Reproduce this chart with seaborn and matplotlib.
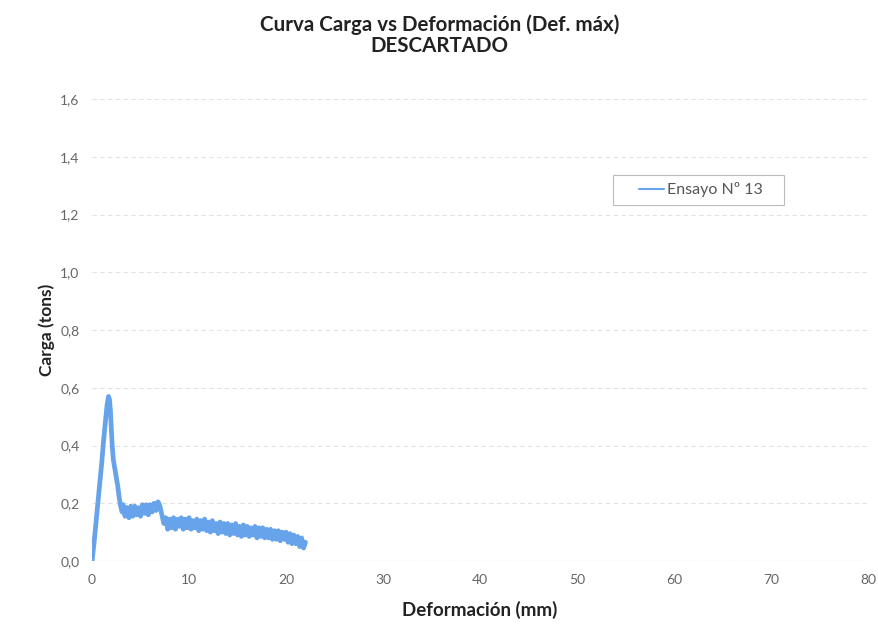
import matplotlib
matplotlib.use("Agg")
import matplotlib.pyplot as plt
import seaborn as sns
import pandas as pd
from matplotlib.ticker import FuncFormatter
from matplotlib.lines import Line2D
from matplotlib.legend_handler import HandlerLine2D

title = "Curva Carga vs Deformación (Def. máx)\nDESCARTADO"
x_label = "Deformación (mm)"
y_label = "Carga (tons)"
series_name = "Ensayo Nº 13"

deformacion = [0.0, 0.2, 0.4, 0.6, 0.8, 1.0, 1.2, 1.4, 1.55, 1.7, 1.8, 1.9, 2.0, 2.1, 2.2, 2.35, 2.5, 2.65, 2.8, 2.95, 3.1,
               3.2, 3.4, 3.6, 3.8, 4.0, 4.2, 4.4, 4.6, 4.8, 5.0, 5.2, 5.4, 5.6, 5.8, 6.0, 6.2, 6.4, 6.6, 6.8, 7.0, 7.2, 7.4,
               7.6, 7.8, 8.0, 8.2, 8.4, 8.6, 8.8, 9.0, 9.2, 9.4, 9.6, 9.8, 10.0, 10.2, 10.4, 10.6, 10.8, 11.0, 11.2, 11.4,
               11.6, 11.8, 12.0, 12.2, 12.4, 12.6, 12.8, 13.0, 13.2, 13.4, 13.6, 13.8, 14.0, 14.2, 14.4, 14.6, 14.8, 15.0,
               15.2, 15.4, 15.6, 15.8, 16.0, 16.2, 16.4, 16.6, 16.8, 17.0, 17.2, 17.4, 17.6, 17.8, 18.0, 18.2, 18.4, 18.6,
               18.8, 19.0, 19.2, 19.4, 19.6, 19.8, 20.0, 20.2, 20.4, 20.6, 20.8, 21.0, 21.2, 21.4, 21.6, 21.8, 22.0]
carga = [0.0, 0.06, 0.13, 0.2, 0.27, 0.34, 0.42, 0.49, 0.54, 0.57, 0.56, 0.52, 0.45, 0.39, 0.35, 0.32, 0.29, 0.26, 0.22, 0.19, 0.17,
         0.195, 0.155, 0.185, 0.15, 0.19, 0.155, 0.19, 0.16, 0.185, 0.155, 0.195, 0.165, 0.195, 0.16, 0.195, 0.17, 0.2, 0.175, 0.205, 0.19, 0.16, 0.13,
         0.15, 0.11, 0.145, 0.115, 0.15, 0.11, 0.145, 0.12, 0.15, 0.11, 0.145, 0.115, 0.15, 0.11, 0.14, 0.115, 0.145, 0.105, 0.14, 0.11,
         0.145, 0.105, 0.135, 0.1, 0.14, 0.105, 0.13, 0.095, 0.135, 0.1, 0.13, 0.095, 0.13, 0.09, 0.125, 0.095, 0.13, 0.09,
         0.12, 0.085, 0.125, 0.09, 0.12, 0.085, 0.115, 0.09, 0.12, 0.08, 0.115, 0.085, 0.115, 0.08, 0.11, 0.08, 0.11, 0.075,
         0.105, 0.075, 0.105, 0.07, 0.1, 0.075, 0.1, 0.065, 0.095, 0.06, 0.09, 0.06, 0.085, 0.05, 0.08, 0.045, 0.065]

x_ticks = [0, 10, 20, 30, 40, 50, 60, 70, 80]
y_ticks = [0.0, 0.2, 0.4, 0.6, 0.8, 1.0, 1.2, 1.4, 1.6]

df = pd.DataFrame({"Deformación": deformacion, "Carga": carga, "Serie": series_name})

sns.set_theme(style="white")
plt.rcParams["font.family"] = ["Lato", "DejaVu Sans"]

fig = plt.figure(figsize=(8.79, 6.35), dpi=100)
ax = fig.add_axes([0.1047, 0.1165, 0.883, 0.7275])

sns.lineplot(data=df, x="Deformación", y="Carga", hue="Serie", palette=["#66a3ea"],
             sort=False, estimator=None, linewidth=3.4, ax=ax)

ax.set_xlim(0, 80)
ax.set_ylim(0, 1.6)
ax.set_xticks(x_ticks)
ax.set_yticks(y_ticks)
ax.xaxis.set_major_formatter(FuncFormatter(lambda v, p: f"{v:.0f}"))
ax.yaxis.set_major_formatter(FuncFormatter(lambda v, p: f"{v:.1f}".replace(".", ",")))
ax.tick_params(axis="both", labelsize=10, colors="#666666", length=0, pad=9)
ax.grid(axis="y", color="#e2e2e2", linestyle=(0, (4, 3)), linewidth=0.8)
ax.grid(axis="x", visible=False)
for s in ax.spines.values():
    s.set_visible(False)
ax.axhline(0, color="#d0d0d0", linestyle=(0, (4, 3)), linewidth=0.8, zorder=0)

ax.set_xlabel(x_label, fontsize=13.5, fontweight="bold", color="#222222", labelpad=11)
ax.set_ylabel(y_label, fontsize=12.5, fontweight="bold", color="#222222", labelpad=4)
fig.suptitle(title, fontsize=14.8, fontweight="bold", color="#222222", y=0.978, linespacing=1.1)

handles, labels = ax.get_legend_handles_labels()
leg = ax.legend(handles, labels, loc="upper left", bbox_to_anchor=(0.671, 0.775, 0.221, 0.06),
                mode="expand", borderaxespad=0, frameon=True, fancybox=False, fontsize=11.5,
                handlelength=2.75, borderpad=0.45, handletextpad=0.2,
                handler_map={Line2D: HandlerLine2D(xpad=1.2)})
leg.get_frame().set_edgecolor("#aaaaaa")
leg.get_frame().set_linewidth(0.8)
for t in leg.get_texts():
    t.set_color("#555555")
for l in leg.get_lines():
    l.set_linewidth(1.5)

fig.savefig("out.png", dpi=100)
